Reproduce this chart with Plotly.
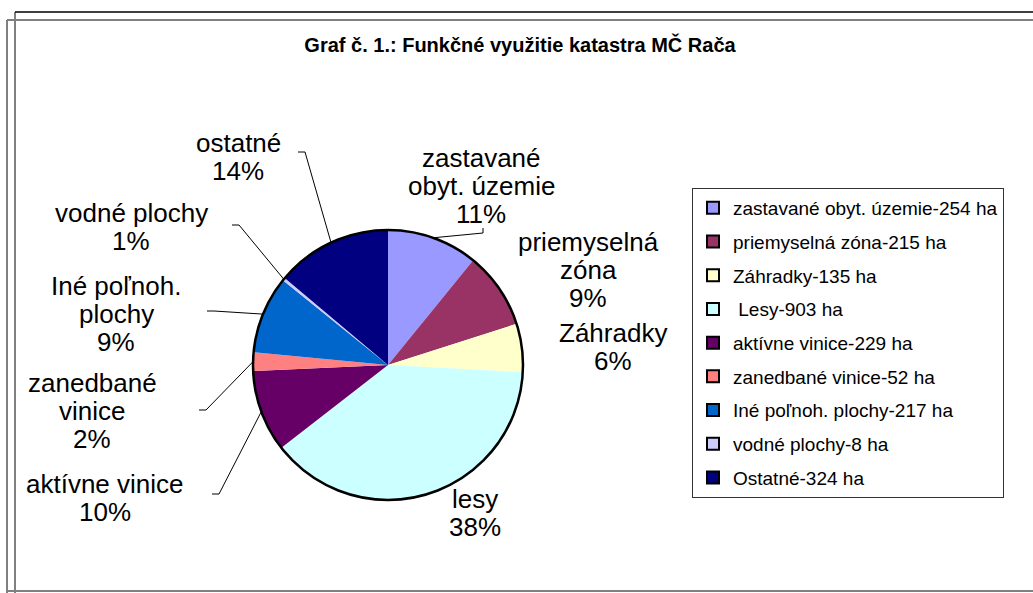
import math
import plotly.graph_objects as go

W, H = 1033, 593

# ---- data ----
categories = ["zastavané obyt. územie", "priemyselná zóna", "Záhradky", "Lesy",
              "aktívne vinice", "zanedbané vinice", "Iné poľnoh. plochy",
              "vodné plochy", "Ostatné"]
hectares = [254, 215, 135, 903, 229, 52, 217, 8, 324]
pct_labels = ["11%", "9%", "6%", "38%", "10%", "2%", "9%", "1%", "14%"]
slice_names = [["zastavané", "obyt. územie"], ["priemyselná", "zóna"], ["Záhradky"], ["lesy"],
               ["aktívne vinice"], ["zanedbané", "vinice"], ["Iné poľnoh.", "plochy"],
               ["vodné plochy"], ["ostatné"]]
legend_names = ["zastavané obyt. územie-254 ha", "priemyselná zóna-215 ha",
                "Záhradky-135 ha", " Lesy-903 ha", "aktívne vinice-229 ha",
                "zanedbané vinice-52 ha", "Iné poľnoh. plochy-217 ha",
                "vodné plochy-8 ha", "Ostatné-324 ha"]
colors = ["#9999FF", "#993366", "#FFFFCC", "#CCFFFF", "#660066",
          "#FF8080", "#0066CC", "#CCCCFF", "#000080"]

# ---- layout helpers (pixel -> paper) ----
def px(x):
    return x / W

def py(y):
    return 1 - y / H

CX, CY, R = 388, 365, 135  # pie centre / radius in pixels
LINE = 28                  # label line spacing in pixels

FONT = "Arial, Liberation Sans, sans-serif"

fig = go.Figure()

fig.add_trace(go.Pie(
    labels=categories, values=hectares, sort=False, direction="clockwise",
    rotation=0, marker=dict(colors=colors, line=dict(width=0)),
    textinfo="none", showlegend=False,
    domain=dict(x=[px(CX - R), px(CX + R)], y=[py(CY + R), py(CY - R)]),
    hovertemplate="%{label}: %{value} ha<extra></extra>",
))
# outline ring
fig.add_trace(go.Pie(
    labels=["outline"], values=[sum(hectares)], sort=False,
    marker=dict(colors=["rgba(0,0,0,0)"], line=dict(color="black", width=2.5)),
    textinfo="none", showlegend=False, hoverinfo="skip",
    domain=dict(x=[px(CX - R), px(CX + R)], y=[py(CY + R), py(CY - R)]),
))

# legend entries
for name, col in zip(legend_names, colors):
    fig.add_trace(go.Bar(x=[None], y=[None], name=name, legendgroup=name,
                         marker=dict(color=col, line=dict(color="black", width=2))))

# slice labels with leader lines
label_pos = {  # (text centre x, centre y, leader anchor x, anchor y or None)
    0: (481, 186, 483, 228),
    1: (588, 270, None, None),
    2: (613, 347, None, None),
    3: (475, 513, None, None),
    4: (105, 498, 212, 494),
    5: (92, 411, 199, 410),
    6: (116, 314, 207, 311),
    7: (131, 227, 232, 225),
    8: (238, 157, 298, 152),
}
total = sum(hectares)
cum = 0
shapes = []
for i, v in enumerate(hectares):
    mid = (cum + v / 2) / total * 2 * math.pi
    cum += v
    tx, ty, ax, ay = label_pos[i]
    lines = slice_names[i] + [pct_labels[i]]
    n = len(lines)
    for k, txt in enumerate(lines):
        yy = ty + (k - (n - 1) / 2) * LINE
        fig.add_annotation(x=px(tx), y=py(yy), xref="paper", yref="paper",
                           text=txt, showarrow=False,
                           font=dict(family=FONT, size=26, color="black"),
                           xanchor="center", yanchor="middle", align="center")
    if ax is not None:
        ex = CX + R * math.sin(mid)
        ey = CY - R * math.cos(mid)
        if ax < CX:
            path = f"M{px(ax)},{py(ay)} L{px(ax + 7)},{py(ay)} L{px(ex)},{py(ey)}"
        else:
            path = f"M{px(ax)},{py(ay)} L{px(ax)},{py(ay + 5)} L{px(ex)},{py(ey)}"
        shapes.append(dict(type="path", xref="paper", yref="paper", path=path,
                           line=dict(color="black", width=1)))

# frame
grey = "#808080"
shapes += [
    dict(type="line", xref="paper", yref="paper", x0=px(7), x1=px(7), y0=py(20), y1=py(593), line=dict(color=grey, width=2)),
    dict(type="line", xref="paper", yref="paper", x0=px(15), x1=px(15), y0=py(12), y1=py(593), line=dict(color=grey, width=2)),
    dict(type="line", xref="paper", yref="paper", x0=px(15), x1=px(1033), y0=py(12), y1=py(12), line=dict(color="black", width=1.5)),
    dict(type="line", xref="paper", yref="paper", x0=px(7), x1=px(1033), y0=py(20), y1=py(20), line=dict(color=grey, width=2)),
    dict(type="line", xref="paper", yref="paper", x0=px(7), x1=px(1033), y0=py(591), y1=py(591), line=dict(color=grey, width=2)),
]

fig.update_layout(
    width=W, height=H, margin=dict(l=0, r=0, t=0, b=0),
    paper_bgcolor="white", plot_bgcolor="white",
    title=dict(text="<b>Graf č. 1.: Funkčné využitie katastra MČ Rača</b>",
               x=px(520), xanchor="center", y=py(45), yanchor="middle",
               font=dict(family=FONT, size=20, color="black")),
    xaxis=dict(visible=False), yaxis=dict(visible=False),
    legend=dict(x=px(692), y=py(188), xanchor="left", yanchor="top",
                bordercolor="#333333", borderwidth=1, bgcolor="white",
                font=dict(family=FONT, size=19, color="black"),
                tracegroupgap=6, itemclick=False, itemdoubleclick=False),
    shapes=shapes,
)

fig.write_html("out.html", config={"displayModeBar": False},
               post_script="document.body.style.margin='0';document.body.style.padding='0';")
